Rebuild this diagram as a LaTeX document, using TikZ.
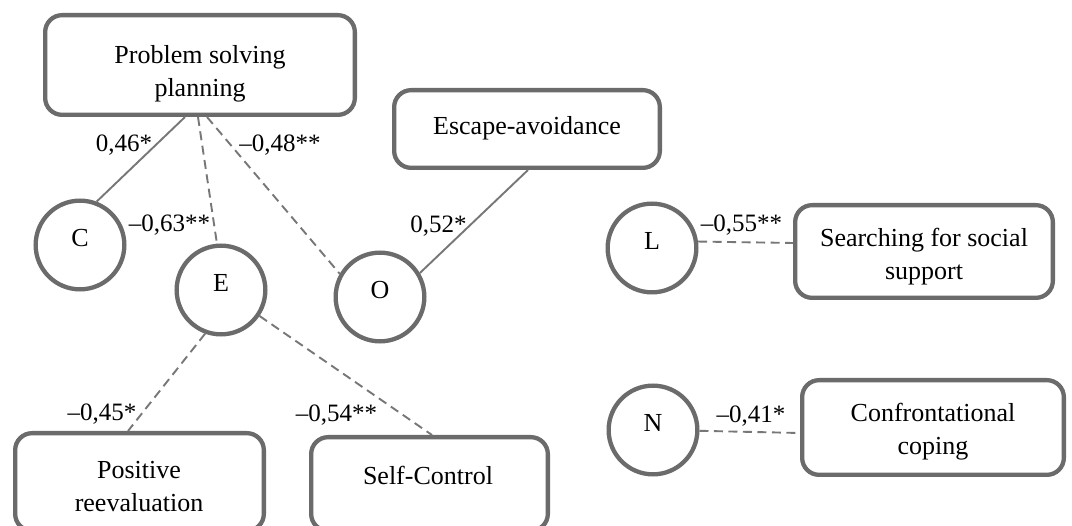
\documentclass[tikz,border=0pt]{standalone}
\usepackage{fontspec}
\setmainfont{Liberation Serif}
\newcommand\boxfont{\fontsize{26}{33.4}\selectfont}
\newcommand\coeffont{\fontsize{25}{30}\selectfont}
\definecolor{bordergray}{HTML}{6B6B6B}
\definecolor{linegray}{HTML}{777777}
\tikzset{
  boxnode/.style={draw=bordergray, line width=4.3pt, rounded corners=17pt, fill=white, inner sep=0pt},
  circnode/.style={circle, draw=bordergray, line width=4.3pt, fill=white, minimum size=88.7pt, inner sep=0pt, text depth=14pt, font=\boxfont},
  boxtext/.style={align=center, font=\boxfont, inner sep=0pt},
  coef/.style={font=\coeffont, inner sep=0pt, anchor=base},
  solidlink/.style={draw=linegray, line width=1.9pt},
  dashlink/.style={draw=linegray, line width=1.9pt, dash pattern=on 9pt off 5.5pt},
}
\begin{document}
\begin{tikzpicture}[x=1pt, y=-1pt]
\useasboundingbox (0,0) rectangle (1072,526);
\clip (0,0) rectangle (1072,526);
\fill[white] (0,0) rectangle (1072,526);

% boxes
\node[boxnode, minimum width=309.7pt, minimum height=99.7pt] (psp) at (200,65) {};
\node[boxtext] (psptxt) at (200,73.9) {Problem solving\\planning};

\node[boxnode, minimum width=265.7pt, minimum height=77.7pt] (esc) at (527,129) {};
\node[boxtext, anchor=base] (esctxt) at (527,135) {Escape-avoidance};

\node[boxnode, minimum width=257.7pt, minimum height=92.7pt] (srch) at (924,251.5) {};
\node[boxtext] (srchtxt) at (924,256.4) {Searching for social\\support};

\node[boxnode, minimum width=261.7pt, minimum height=94.7pt] (conf) at (933,427.5) {};
\node[boxtext] (conftxt) at (933,431.4) {Confrontational\\coping};

\node[boxnode, minimum width=248.7pt, minimum height=97.7pt] (pos) at (139.5,482) {};
\node[boxtext] (postxt) at (139,486.6) {Positive\\reevaluation};

\node[boxnode, minimum width=236.7pt, minimum height=93.7pt] (self) at (429.5,484) {};
\node[boxtext, anchor=base] (selftxt) at (428,485) {Self-Control};

% circles
\node[circnode] (C) at (80,245) {C};
\node[circnode] (E) at (221,290) {E};
\node[circnode] (O) at (380,297) {O};
\node[circnode] (L) at (652,248) {L};
\node[circnode] (N) at (653,430) {N};

% connectors
\draw[solidlink] ([xshift=-15pt]psp.south) -- (C.69);
\draw[dashlink] ([xshift=-2pt]psp.south) -- (E.95);
\draw[dashlink] ([xshift=7pt]psp.south) -- (O.150);
\draw[solidlink] ([xshift=1pt]esc.south) -- (O.31);
\draw[dashlink] (L.8) -- ([yshift=8.5pt]srch.west);
\draw[dashlink] (N.-1) -- ([yshift=-5.5pt]conf.west);
\draw[dashlink] (E.-110) -- ([xshift=-11.5pt]pos.north);
\draw[dashlink] (E.-34) -- ([xshift=2.5pt]self.north);

% coefficients
\node[coef] (l46) at (124,152) {0,46*};
\node[coef] (l48) at (280,152) {–0,48**};
\node[coef] (l63) at (169.5,232) {–0,63**};
\node[coef] (l52) at (438.5,233) {0,52*};
\node[coef] (l55) at (741.5,232) {–0,55**};
\node[coef] (l41) at (751,423) {–0,41*};
\node[coef] (l45) at (102,421) {–0,45*};
\node[coef] (l54) at (336.5,422) {–0,54**};
\end{tikzpicture}
\end{document}
